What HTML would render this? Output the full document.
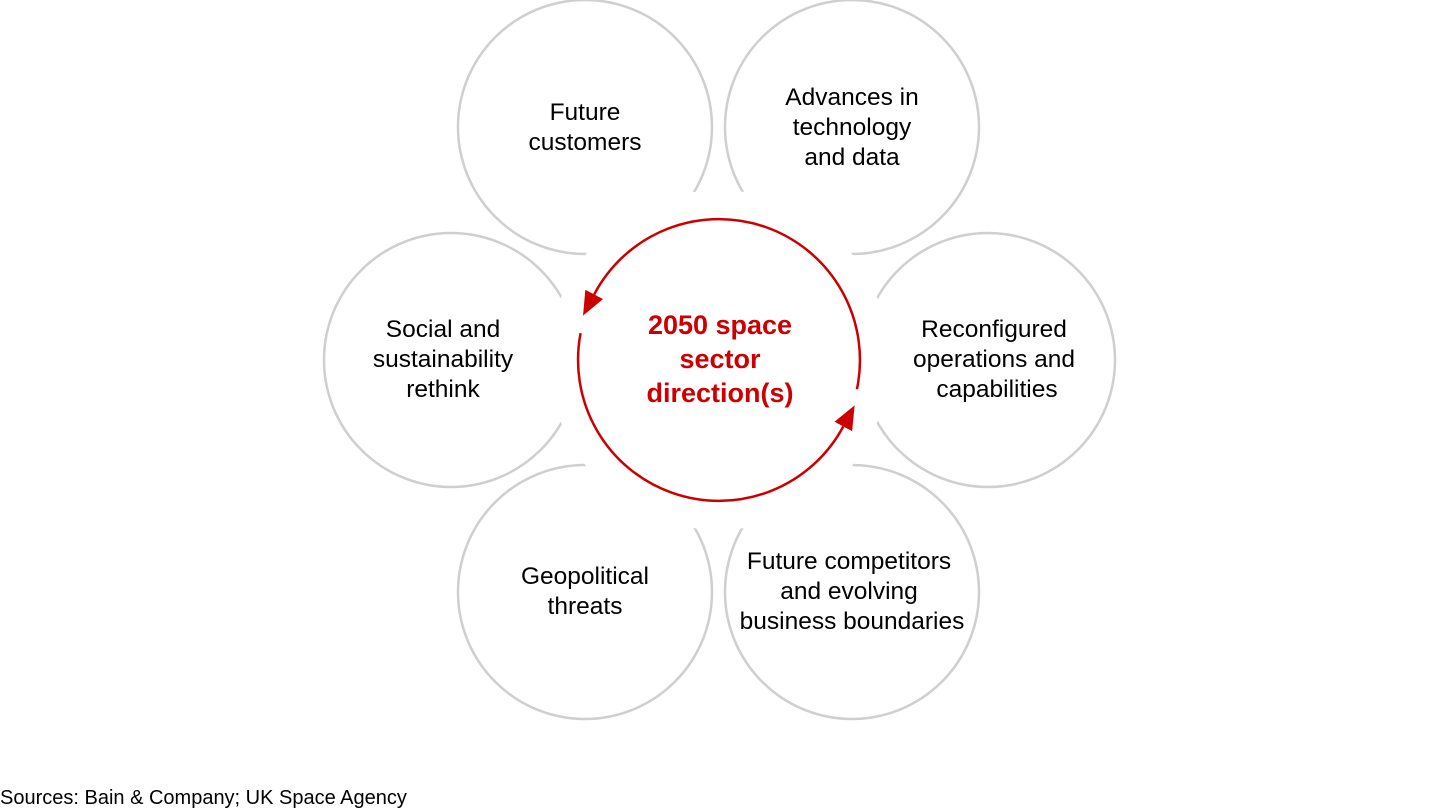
<!DOCTYPE html>
<html><head><style>
body{margin:0;background:#fff;}
svg{display:block;}
text{font-family:"Liberation Sans",Arial,sans-serif;}
</style></head><body>
<svg width="1440" height="810" viewBox="0 0 1440 810">
<defs>
<mask id="m"><rect width="1440" height="810" fill="#fff"/><circle cx="719" cy="360" r="170" fill="#000"/></mask>
<marker id="ar" markerWidth="24" markerHeight="20" refX="0" refY="10" orient="auto" markerUnits="userSpaceOnUse">
<path d="M0,0 L24,10 L0,20 Z" fill="#cc0000"/></marker>
</defs>
<g fill="none" stroke="#cfcfcf" stroke-width="2.5" mask="url(#m)">
<circle cx="585" cy="127" r="127"/>
<circle cx="852" cy="127" r="127"/>
<circle cx="451" cy="360" r="127"/>
<circle cx="988" cy="360" r="127"/>
<circle cx="585" cy="592" r="127"/>
<circle cx="852" cy="592" r="127"/>
</g>
<g fill="none" stroke="#cc0000" stroke-width="2.5">
<path d="M856.9,389.3 A141,141 0 0 0 594.2,294.4" marker-end="url(#ar)"/>
<path d="M580.6,333.1 A141,141 0 0 0 843.3,426.5" marker-end="url(#ar)"/>
</g>
<g font-size="24.5" fill="#000" text-anchor="middle">
<text x="585" y="120">Future</text><text x="585" y="150">customers</text>
<text x="852" y="105">Advances in</text><text x="852" y="135">technology</text><text x="852" y="165">and data</text>
<text x="443" y="337">Social and</text><text x="443" y="367">sustainability</text><text x="443" y="397">rethink</text>
<text x="994" y="337">Reconfigured</text><text x="994" y="367">operations and</text><text x="997" y="397">capabilities</text>
<text x="585" y="584">Geopolitical</text><text x="585" y="614">threats</text>
<text x="849" y="569">Future competitors</text><text x="849" y="599">and evolving</text><text x="852" y="629">business boundaries</text>
</g>
<g font-size="27" font-weight="bold" fill="#cc0000" text-anchor="middle">
<text x="720" y="334">2050 space</text><text x="720" y="368">sector</text><text x="720" y="402">direction(s)</text>
</g>
<text x="0" y="804" font-size="20" fill="#000">Sources: Bain &amp; Company; UK Space Agency</text>
</svg>
</body></html>
